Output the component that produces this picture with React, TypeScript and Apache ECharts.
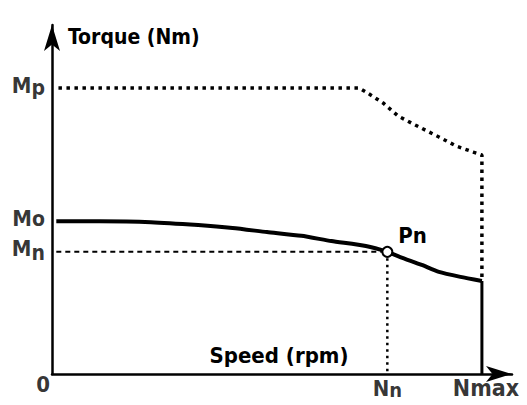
import React, { useEffect, useRef } from 'react';
import * as echarts from 'echarts';

// Continuous torque curve (solid)
const curveSpeed = [1, 11, 23, 34, 42, 50, 58, 65, 73, 78, 81, 86, 90, 95, 100];
const curveTorque = [52.5, 52.5, 52.2, 51.2, 50.2, 48.8, 47.5, 45.7, 44, 42, 40.2, 37.5, 35.1, 33.4, 32];
// Peak torque envelope (dotted)
const peakSpeed = [1.5, 71.5, 73, 77, 80.5, 84.5, 90, 94, 98, 100, 100];
const peakTorque = [98.3, 98.3, 97, 93.2, 88.7, 85.6, 81.5, 78.4, 76.3, 75.3, 32];
// Axis marks
const torqueMarkSubs = ['p', 'o', 'n'];
const torqueMarkValues = [98.3, 52.5, 42];
const speedMarkMain = ['N', 'Nmax'];
const speedMarkSubs = ['n', ''];
const speedMarkValues = [78, 100];
const ratedPoint = [78, 42];
const ratedLabel = 'Pn';
const xMax = 107;
const yMax = 120;

export default function App() {
  const ref = useRef<HTMLDivElement>(null);
  useEffect(() => {
    const chart = echarts.init(ref.current!, null, { renderer: 'svg' });
    const FONT = 'DejaVu Sans Condensed';
    const base = { fontFamily: FONT, fontWeight: 'bold' as const, color: '#000' };
    const rich = {
      a: { ...base, fontSize: 22 },
      p: { ...base, fontSize: 21, padding: [5, 0, 0, 0] },
      o: { ...base, fontSize: 21, padding: [1, 0, 0, 0] },
      n: { ...base, fontSize: 21, padding: [8, 0, 0, 0] },
      q: { ...base, fontSize: 20, padding: [4, 0, 0, 0] },
      m: { ...base, fontSize: 23, padding: [0, 0, 0, 8] },
    };
    const [nn, mn] = ratedPoint;
    const nMax = speedMarkValues[1];
    const endTorque = curveTorque[curveTorque.length - 1];
    const black = '#000';
    chart.setOption({
      animation: false,
      grid: { left: 52, right: 15, top: 25, bottom: 31 },
      xAxis: {
        type: 'value', min: 0, max: xMax,
        splitLine: { show: false }, axisTick: { show: false }, axisLabel: { show: false },
        axisLine: { show: true, onZero: false, symbol: ['none', 'arrow'], symbolSize: [12, 26], lineStyle: { color: black, width: 2.5 } },
        name: 'Speed (rpm)', nameLocation: 'middle', nameGap: -19,
        nameTextStyle: { ...base, fontSize: 22, verticalAlign: 'middle', padding: [0, 6, 0, 0] },
      },
      yAxis: {
        type: 'value', min: 0, max: yMax,
        splitLine: { show: false }, axisTick: { show: false }, axisLabel: { show: false },
        axisLine: { show: true, onZero: false, symbol: ['none', 'arrow'], symbolSize: [12, 26], lineStyle: { color: black, width: 2.5 } },
        name: 'Torque (Nm)', nameLocation: 'end', nameGap: -12,
        nameTextStyle: { ...base, fontSize: 21, align: 'left', verticalAlign: 'middle', padding: [0, 0, 0, 16] },
      },
      series: [
        {
          type: 'line', data: peakSpeed.map((s, i) => [s, peakTorque[i]]), showSymbol: false, silent: true,
          lineStyle: { color: black, width: 3.5, type: [3.5, 4.5], cap: 'butt' },
        },
        {
          type: 'line', data: curveSpeed.map((s, i) => [s, curveTorque[i]]), showSymbol: false, silent: true,
          smooth: 0.2, lineStyle: { color: black, width: 4 },
        },
        {
          type: 'line', data: [[nMax, endTorque], [nMax, 0]], showSymbol: false, silent: true,
          lineStyle: { color: black, width: 3 },
        },
        {
          type: 'line', data: [[1, mn], [nn, mn]], showSymbol: false, silent: true,
          lineStyle: { color: black, width: 2, type: [5, 4] },
        },
        {
          type: 'line', data: [[nn, mn], [nn, 0]], showSymbol: false, silent: true,
          lineStyle: { color: black, width: 2.5, type: [2.5, 4] },
        },
        {
          type: 'scatter', data: [ratedPoint], symbol: 'circle', symbolSize: 10, z: 10, silent: true,
          itemStyle: { color: '#fff', borderColor: black, borderWidth: 2, opacity: 1 },
          label: { show: true, position: 'right', distance: 5, offset: [0, -16], formatter: ratedLabel, ...base, fontSize: 22 },
        },
        {
          type: 'scatter', symbolSize: 0, silent: true,
          data: torqueMarkValues.map((v) => [0, v]),
          label: {
            show: true, position: 'left', distance: 7, offset: [0, -3],
            formatter: (p: any) => {
              const s = torqueMarkSubs[p.dataIndex];
              return `{a|M}{${s}|${s}}`;
            },
            rich,
          },
        },
        {
          type: 'scatter', symbolSize: 0, silent: true,
          data: speedMarkValues.map((v) => [v, 0]),
          label: {
            show: true, position: 'bottom', distance: 2,
            formatter: (p: any) => {
              const main = speedMarkMain[p.dataIndex];
              const sub = speedMarkSubs[p.dataIndex];
              return sub ? `{a|${main}}{q|${sub}}` : `{m|${main}}`;
            },
            rich,
          },
        },
        {
          type: 'scatter', symbolSize: 0, silent: true, data: [[0, 0]],
          label: { show: true, position: 'left', distance: 2, offset: [0, 10], formatter: '0', ...base, fontSize: 22 },
        },
      ],
    });
    return () => chart.dispose();
  }, []);
  return <div ref={ref} style={{ position: 'fixed', left: 0, top: 0, width: 527, height: 405, background: '#fff' }} />;
}
